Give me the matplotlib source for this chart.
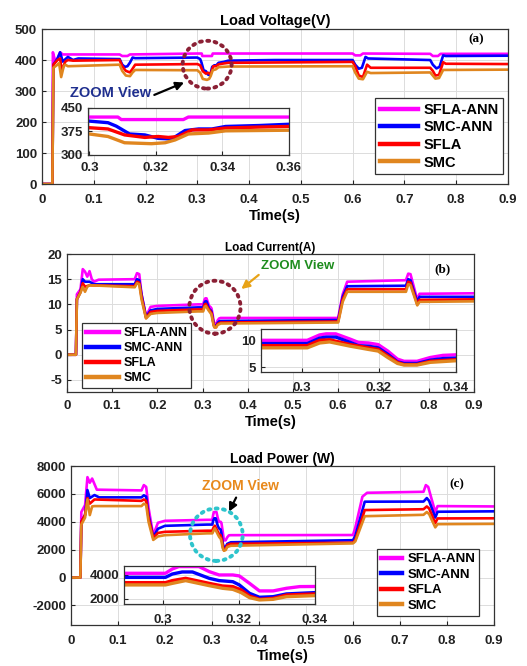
import matplotlib
matplotlib.use('Agg')
import matplotlib.pyplot as plt
from matplotlib.patches import Ellipse

plt.rcParams['font.family'] = ['Liberation Sans', 'DejaVu Sans']
plt.rcParams['font.weight'] = 'bold'
plt.rcParams['axes.labelweight'] = 'bold'
plt.rcParams['axes.titleweight'] = 'bold'
plt.rcParams['axes.unicode_minus'] = False

names = ['SFLA-ANN', 'SMC-ANN', 'SFLA', 'SMC']
colors = ['#ff00ff', '#0000ff', '#ff0000', '#e0861f']
x_ticks = [0, 0.1, 0.2, 0.3, 0.4, 0.5, 0.6, 0.7, 0.8, 0.9]

# ---- (a) load voltage
t_v1 = [0, 0.02, 0.021, 0.025, 0.03, 0.035, 0.04, 0.15, 0.155, 0.165, 0.17, 0.3, 0.3086, 0.3096,
        0.3283, 0.3298, 0.36, 0.6, 0.605, 0.615, 0.62, 0.75, 0.755, 0.765, 0.77, 0.9]
v1 = [0, 0, 425, 400, 405, 425, 418, 418, 413, 413, 418, 421, 421, 413,
      413, 421, 421, 421, 415, 415, 421, 420, 413, 413, 420, 420]
t_v2 = [0, 0.02, 0.022, 0.03, 0.035, 0.04, 0.05, 0.06, 0.07, 0.15, 0.155, 0.16, 0.165, 0.17, 0.175,
        0.18, 0.3, 0.3056, 0.3081, 0.3121, 0.3167, 0.3207, 0.3248, 0.3288, 0.3329, 0.3369, 0.341,
        0.3511, 0.36, 0.45, 0.6, 0.605, 0.612, 0.618, 0.625, 0.63, 0.75, 0.755, 0.762, 0.768,
        0.775, 0.78, 0.9]
v2 = [0, 0, 385, 405, 425, 395, 410, 400, 405, 403, 385, 378, 380, 392, 408,
      406, 408, 403, 392, 367, 364, 353, 351, 378, 383, 383, 391,
      394, 398, 400, 400, 385, 372, 375, 410, 405, 400, 385, 373, 378,
      415, 413, 414]
t_v3 = [0, 0.02, 0.022, 0.03, 0.035, 0.038, 0.045, 0.05, 0.06, 0.15, 0.155, 0.162, 0.17, 0.175,
        0.18, 0.3, 0.3056, 0.3106, 0.3167, 0.3207, 0.3238, 0.3268, 0.3309, 0.3359, 0.341, 0.3511,
        0.36, 0.6, 0.605, 0.612, 0.62, 0.628, 0.635, 0.75, 0.755, 0.76, 0.767, 0.775, 0.78, 0.9]
v3 = [0, 0, 385, 400, 405, 365, 395, 400, 398, 400, 380, 365, 360, 372,
      385, 387, 383, 364, 356, 359, 356, 359, 380, 380, 386, 389,
      391, 394, 380, 350, 345, 385, 375, 375, 365, 350, 352, 393, 388, 387]
t_v4 = [0, 0.02, 0.022, 0.03, 0.033, 0.037, 0.042, 0.045, 0.05, 0.15, 0.155, 0.162, 0.17, 0.175,
        0.18, 0.3, 0.3056, 0.3106, 0.3187, 0.3228, 0.3258, 0.3298, 0.3359, 0.341, 0.36, 0.6,
        0.605, 0.612, 0.62, 0.628, 0.635, 0.75, 0.755, 0.76, 0.767, 0.775, 0.9]
v4 = [0, 0, 375, 385, 390, 345, 380, 385, 380, 385, 365, 350, 348, 360,
      368, 367, 359, 339, 336, 339, 348, 367, 370, 377, 379, 380,
      360, 340, 338, 362, 358, 360, 350, 340, 342, 368, 369]

# ---- (b) load current
t_i1 = [0, 0.02, 0.022, 0.03, 0.035, 0.04, 0.045, 0.05, 0.055, 0.06, 0.07, 0.15, 0.155, 0.16, 0.165,
        0.175, 0.185, 0.2, 0.29, 0.3014, 0.3046, 0.3063, 0.3088, 0.3126, 0.3147, 0.3173, 0.3198,
        0.3223, 0.3248, 0.3265, 0.3299, 0.3333, 0.3366, 0.34, 0.6, 0.61, 0.62, 0.75, 0.755, 0.76,
        0.775, 0.78, 0.9]
i1 = [0, 0, 12, 13, 17, 16.5, 15.5, 16.6, 15, 14.5, 14.9, 15, 16.2, 16, 12,
      7.6, 9.5, 9.7, 10.0, 10.0, 11.0, 11.2, 11.2, 10.2, 9.6, 9.5, 9.2,
      8.0, 6.5, 6.1, 6.1, 6.8, 7.2, 7.3, 7.3, 12, 14.5, 14.8, 16.1, 16,
      10.9, 12.1, 12.2]
t_i2 = [0, 0.02, 0.022, 0.03, 0.035, 0.04, 0.05, 0.06, 0.15, 0.155, 0.16, 0.165, 0.175, 0.185, 0.2,
        0.29, 0.3014, 0.3046, 0.3063, 0.3088, 0.3126, 0.3147, 0.3173, 0.3198, 0.3223, 0.3248,
        0.3265, 0.3299, 0.3333, 0.3366, 0.34, 0.6, 0.61, 0.62, 0.75, 0.755, 0.76, 0.775, 0.78, 0.9]
i2 = [0, 0, 11, 12.5, 15, 14.5, 14.5, 14, 14, 15, 14.8, 12, 7.5, 8.8, 9.1,
      9.4, 9.4, 10.4, 10.6, 10.6, 9.6, 9.0, 8.9, 8.6, 7.4, 6.0,
      5.7, 5.7, 6.3, 6.6, 6.7, 6.9, 11.5, 13.6, 13.7, 15, 14.8, 10.5, 11.5, 11.5]
t_i3 = [0, 0.02, 0.022, 0.03, 0.035, 0.04, 0.05, 0.15, 0.155, 0.16, 0.165, 0.175, 0.185, 0.2, 0.29,
        0.3014, 0.3046, 0.3072, 0.3126, 0.3173, 0.3198, 0.3223, 0.3248, 0.3265, 0.3299, 0.3333,
        0.34, 0.6, 0.61, 0.62, 0.75, 0.755, 0.76, 0.775, 0.78, 0.9]
i3 = [0, 0, 11, 12.5, 14.2, 13.5, 13.8, 13.6, 14.5, 14.3, 11.5, 7.3, 8.5, 8.7, 9.0,
      9.0, 10.0, 10.1, 9.2, 8.6, 8.3, 7.1, 5.9, 5.5, 5.5, 6.1,
      6.4, 6.6, 11, 13.0, 13.0, 14.5, 14.3, 10.0, 10.9, 11.0]
t_i4 = [0, 0.02, 0.022, 0.03, 0.035, 0.04, 0.045, 0.05, 0.15, 0.155, 0.16, 0.165, 0.175, 0.185, 0.2,
        0.29, 0.3014, 0.3046, 0.3072, 0.3126, 0.3173, 0.3198, 0.3223, 0.3248, 0.3265, 0.3299,
        0.3333, 0.34, 0.6, 0.61, 0.62, 0.75, 0.755, 0.76, 0.775, 0.78, 0.9]
i4 = [0, 0, 11, 12.3, 13.5, 12.5, 13.5, 13.8, 13.4, 14.2, 14, 11, 7.2, 8.1, 8.3,
      8.6, 8.6, 9.5, 9.7, 8.9, 8.3, 8.0, 6.8, 5.7, 5.4, 5.4,
      5.9, 6.2, 6.4, 10.5, 12.5, 12.5, 14, 13.8, 9.8, 10.5, 10.6]

# ---- (c) load power
t_p1 = [0, 0.02, 0.022, 0.03, 0.035, 0.04, 0.045, 0.05, 0.055, 0.06, 0.15, 0.155, 0.16, 0.165,
        0.175, 0.185, 0.2, 0.2898, 0.3007, 0.3025, 0.3042, 0.3095, 0.3122, 0.3148, 0.3184, 0.3201,
        0.3228, 0.3254, 0.329, 0.3325, 0.336, 0.34, 0.6, 0.605, 0.62, 0.63, 0.75, 0.755, 0.76,
        0.775, 0.78, 0.9]
p1 = [0, 0, 4700, 5200, 7200, 6800, 7100, 6700, 6300, 6300, 6250, 6630, 6500, 5000,
      3040, 3930, 4070, 4140, 4140, 4500, 4700, 4700, 4280, 4000, 4000, 3920,
      3300, 2670, 2670, 2890, 3030, 3040, 3050, 3600, 5800, 6080, 6150, 6630, 6500,
      4700, 5125, 5100]
t_p2 = [0, 0.02, 0.022, 0.03, 0.035, 0.04, 0.05, 0.06, 0.15, 0.155, 0.16, 0.165, 0.175, 0.185, 0.2,
        0.2898, 0.3007, 0.3025, 0.3051, 0.3078, 0.3122, 0.3148, 0.3184, 0.3201, 0.3228, 0.3254,
        0.329, 0.3325, 0.34, 0.6, 0.605, 0.625, 0.75, 0.757, 0.762, 0.775, 0.78, 0.9]
p2 = [0, 0, 4000, 4500, 6275, 5700, 5915, 5750, 5750, 5900, 5800, 4500, 2900, 3500, 3710,
      3800, 3800, 4080, 4250, 4250, 3720, 3530, 3440, 3170, 2470, 2140,
      2190, 2420, 2530, 2680, 3000, 5440, 5450, 5700, 5500, 4300, 4720, 4750]
t_p3 = [0, 0.02, 0.022, 0.03, 0.035, 0.04, 0.05, 0.15, 0.155, 0.16, 0.165, 0.175, 0.185, 0.2,
        0.2898, 0.3007, 0.3025, 0.306, 0.3122, 0.3157, 0.3184, 0.3206, 0.3228, 0.3254, 0.329,
        0.3325, 0.34, 0.6, 0.605, 0.625, 0.75, 0.757, 0.762, 0.775, 0.78, 0.9]
p3 = [0, 0, 4000, 4500, 5700, 5300, 5600, 5500, 5600, 5500, 4300, 2850, 3200, 3280,
      3360, 3360, 3530, 3720, 3300, 3080, 3030, 2750, 2250, 1970, 2050,
      2330, 2420, 2500, 2700, 4840, 4900, 5100, 4950, 3900, 4240, 4250]
t_p4 = [0, 0.02, 0.022, 0.03, 0.035, 0.04, 0.045, 0.05, 0.15, 0.155, 0.16, 0.165, 0.175, 0.185, 0.2,
        0.2898, 0.3007, 0.3025, 0.306, 0.3122, 0.3157, 0.3184, 0.3206, 0.3228, 0.3254, 0.329,
        0.3325, 0.34, 0.6, 0.605, 0.625, 0.75, 0.757, 0.762, 0.775, 0.78, 0.9]
p4 = [0, 0, 3800, 4300, 5600, 4480, 5100, 5125, 5125, 5300, 5200, 4000, 2700, 2950, 3040,
      3170, 3170, 3300, 3530, 3110, 2890, 2800, 2530, 2110, 1920, 1970,
      2190, 2280, 2450, 2600, 4400, 4500, 4700, 4550, 3600, 3830, 3850]


def style(ax, size):
    ax.tick_params(direction='in', length=3, labelsize=size, colors='#222222')
    ax.grid(True, color='#dcdcdc', linewidth=0.7)
    ax.set_axisbelow(True)
    for s in ax.spines.values():
        s.set_color('#333333')
        s.set_linewidth(0.9)


def panel(fig, rect, series, ylim, yticks, title, title_size, title_pad, tag, tag_xy, xpad):
    ax = fig.add_axes(rect)
    for (t, v), c, n in zip(series, colors, names):
        ax.plot(t, v, color=c, lw=1.9, label=n)
    ax.set_xlim(0, 0.9)
    ax.set_ylim(*ylim)
    ax.set_xticks(x_ticks, [f'{x:g}' for x in x_ticks])
    ax.set_yticks(yticks)
    style(ax, 9.5)
    ax.tick_params(axis='x', pad=xpad)
    ax.set_title(title, fontsize=title_size, pad=title_pad)
    ax.set_xlabel('Time(s)', fontsize=10.5, labelpad=2)
    ax.text(*tag_xy, tag, transform=ax.transAxes, family='Liberation Serif',
            fontsize=9.5, fontweight='bold', ha='center', va='center')
    return ax


def inset(fig, rect, series, xlim, ylim, xticks, yticks, pad):
    ax = fig.add_axes(rect)
    for (t, v), c in zip(series, colors):
        ax.plot(t, v, color=c, lw=2.4)
    ax.set_xlim(*xlim)
    ax.set_ylim(*ylim)
    ax.set_xticks(xticks, [f'{x:g}' for x in xticks])
    ax.set_yticks(yticks)
    style(ax, 9.5)
    ax.tick_params(axis='x', pad=pad)
    return ax


def legend(ax, loc, anchor, size, hlen):
    leg = ax.legend(loc=loc, bbox_to_anchor=anchor, fontsize=size, frameon=True, fancybox=False,
                    edgecolor='#333333', framealpha=1, borderpad=0.3, labelspacing=0.25,
                    handlelength=hlen, handletextpad=0.4, borderaxespad=0)
    leg.get_frame().set_linewidth(0.9)
    for line in leg.get_lines():
        line.set_linewidth(3.2)


fig = plt.figure(figsize=(5.27, 6.66), dpi=100)

# (a)
volt = [(t_v1, v1), (t_v2, v2), (t_v3, v3), (t_v4, v4)]
ax = panel(fig, [0.0797, 0.7237, 0.884, 0.2327], volt, (0, 500), [0, 100, 200, 300, 400, 500],
           'Load Voltage(V)', 10.5, 3, '(a)', (0.933, 0.935), 7.5)
legend(ax, 'lower right', (0.99, 0.065), 10.5, 2.6)
ax.add_patch(Ellipse((0.319, 385), 0.0946, 154, fill=False, edgecolor='#8b2035', lw=2.8,
                     linestyle=(0, (0.5, 1.4)), capstyle='round', zorder=5))
ax.text(0.133, 294, 'ZOOM View', color='#1f2f8f', fontsize=10.5, ha='center', va='center')
ax.annotate('', xy=(0.2795, 331), xytext=(0.212, 284),
            arrowprops=dict(arrowstyle='-|>', color='black', lw=1.6, mutation_scale=12))
inset(fig, [0.1664, 0.7673, 0.3814, 0.0706], volt, (0.2995, 0.36), (300, 450),
      [0.3, 0.32, 0.34, 0.36], [300, 375, 450], 5)

# (b)
curr = [(t_i1, i1), (t_i2, i2), (t_i3, i3), (t_i4, i4)]
ax = panel(fig, [0.127, 0.4114, 0.772, 0.2072], curr, (-7.4, 20), [-5, 0, 5, 10, 15, 20],
           'Load Current(A)', 8.5, 1.5, '(b)', (0.924, 0.891), 6)
legend(ax, 'lower left', (0.038, 0.028), 9, 2.6)
ax.add_patch(Ellipse((0.3274, 9.44), 0.1133, 10.5, fill=False, edgecolor='#8b2035', lw=2.8,
                     linestyle=(0, (0.5, 1.4)), capstyle='round', zorder=5))
ax.text(0.51, 17.7, 'ZOOM View', color='#1e8c1e', fontsize=9.5, ha='center', va='center')
ax.annotate('', xy=(0.381, 12.7), xytext=(0.429, 16.2),
            arrowprops=dict(arrowstyle='-|>', color='#e8a317', lw=1.6, mutation_scale=12))
inset(fig, [0.4953, 0.4414, 0.370, 0.0646], curr, (0.2894, 0.34), (4.1, 12.1),
      [0.3, 0.32, 0.34], [5, 10], 7)

# (c)
powr = [(t_p1, p1), (t_p2, p2), (t_p3, p3), (t_p4, p4)]
ax = panel(fig, [0.1347, 0.0616, 0.8027, 0.2387], powr, (-3400, 8000),
           [-2000, 0, 2000, 4000, 6000, 8000], 'Load Power (W)', 10, 2, '(c)', (0.912, 0.887), 7)
legend(ax, 'lower right', (0.965, 0.057), 9.5, 1.6)
ax.add_patch(Ellipse((0.3093, 3075), 0.112, 3758, fill=False, edgecolor='#2ec4cc', lw=2.8,
                     linestyle=(0, (0.5, 1.4)), capstyle='round', zorder=5))
ax.text(0.361, 6560, 'ZOOM View', color='#e8891c', fontsize=10, ha='center', va='center')
ax.annotate('', xy=(0.3335, 4548), xytext=(0.354, 5913),
            arrowprops=dict(arrowstyle='-|>', color='black', lw=1.6, mutation_scale=12))
inset(fig, [0.2353, 0.0931, 0.3624, 0.0571], powr, (0.2898, 0.34), (1580, 4750),
      [0.3, 0.32, 0.34], [2000, 4000], 7)

fig.savefig('out.png', dpi=100)
